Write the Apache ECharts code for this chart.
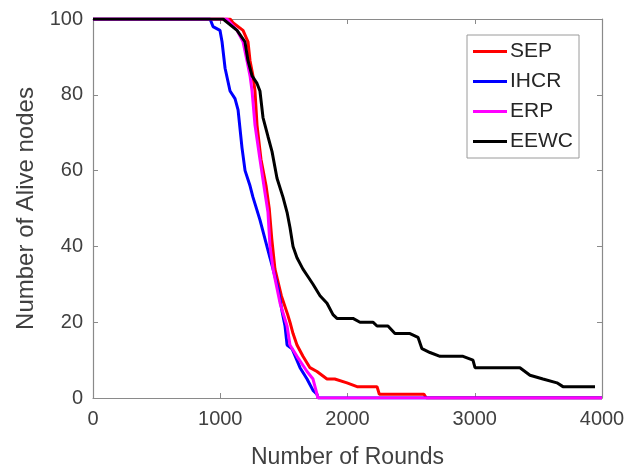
<!DOCTYPE html>
<html>
<head>
<meta charset="utf-8">
<script src="https://cdn.jsdelivr.net/npm/echarts@6/dist/echarts.min.js"></script>
<style>
html,body{margin:0;padding:0;background:#fff;}
#chart{width:641px;height:474px;}
</style>
</head>
<body>
<div id="chart"></div>
<script>
var seriesNames = ['SEP', 'IHCR', 'ERP', 'EEWC'];
var xTicks = [0, 1000, 2000, 3000, 4000];
var yTicks = [0, 20, 40, 60, 80, 100];

var sepRounds = [0,1077,1100,1179,1218,1234,1257,1273,1289,1320,1360,1385,1405,1430,1480,1530,1548,1572,1603,1650,1705,1760,1839,1900,1996,2075,2232,2250,2600,2620,4000];
var sepAlive  = [100,100,99,97,94,89,85,81,72,63,56,50,42,34,27,22,20,17,14,11,8,7,5,5,4,3,3,1,1,0,0];

var ihcrRounds = [0,920,943,998,1014,1038,1077,1116,1140,1171,1195,1234,1257,1312,1367,1391,1415,1454,1485,1509,1525,1564,1627,1682,1729,1760,1770,4000];
var ihcrAlive  = [100,100,98,97,94,87,81,79,76,66,60,56,53,47,40,37,34,29,23,19,14,13,8,5,2,1,0,0];

var erpRounds = [0,1053,1132,1179,1210,1234,1250,1273,1312,1352,1375,1391,1415,1470,1525,1548,1603,1682,1729,1768,4000];
var erpAlive  = [100,100,97,94,89,85,81,72,63,54,49,40,34,25,19,14,11,7,5,0,0];

var eewcRounds = [0,1000,1022,1132,1194,1218,1250,1289,1312,1336,1375,1407,1446,1493,1525,1548,1572,1603,1650,1690,1729,1784,1839,1886,1917,2043,2098,2200,2232,2318,2373,2491,2554,2585,2648,2727,2908,2986,3002,3355,3434,3536,3646,3693,3945];
var eewcAlive  = [100,100,100,97,94,89,85,83,81,74,69,65,58,53,49,45,40,37,34,32,30,27,25,22,21,21,20,20,19,19,17,17,16,13,12,11,11,10,8,8,6,5,4,3,3];

var colors = ['#ff0000', '#0000ff', '#ff00ff', '#000000'];

function zip(xs, ys) { return xs.map(function (x, i) { return [x, ys[i]]; }); }
var allData = [zip(sepRounds, sepAlive), zip(ihcrRounds, ihcrAlive), zip(erpRounds, erpAlive), zip(eewcRounds, eewcAlive)];

var axisGray = '#8a8a8a';
var labelColor = '#404040';
var font = 'Liberation Sans, Arial, sans-serif';

function baseX(pos, showLabel) {
  return {
    type: 'value', position: pos, min: xTicks[0], max: xTicks[xTicks.length - 1],
    interval: xTicks[1] - xTicks[0],
    axisLine: { show: true, onZero: false, lineStyle: { color: axisGray, width: 1.2 } },
    axisTick: { show: true, inside: true, length: 5, lineStyle: { color: axisGray } },
    axisLabel: { show: showLabel, color: labelColor, fontSize: 20, fontFamily: font, margin: 11,
                 formatter: function (v) { return String(v); } },
    splitLine: { show: false }
  };
}
function baseY(pos, showLabel) {
  return {
    type: 'value', position: pos, min: yTicks[0], max: yTicks[yTicks.length - 1],
    interval: yTicks[1] - yTicks[0],
    axisLine: { show: true, onZero: false, lineStyle: { color: axisGray, width: 1.2 } },
    axisTick: { show: true, inside: true, length: 5, lineStyle: { color: axisGray } },
    axisLabel: { show: showLabel, color: labelColor, fontSize: 20, fontFamily: font, margin: 10,
                 formatter: function (v) { return String(v); } },
    splitLine: { show: false }
  };
}

var xa = baseX('bottom', true);
xa.name = 'Number of Rounds';
xa.nameLocation = 'middle';
xa.nameGap = 48;
xa.nameTextStyle = { color: labelColor, fontSize: 23, fontFamily: font };
var xb = baseX('top', false);

var ya = baseY('left', true);
ya.name = 'Number of Alive nodes';
ya.nameLocation = 'middle';
ya.nameGap = 54;
ya.nameTextStyle = { color: labelColor, fontSize: 24, fontFamily: font };
var yb = baseY('right', false);

var chart = echarts.init(document.getElementById('chart'), null, { renderer: 'canvas' });
chart.setOption({
  animation: false,
  backgroundColor: '#ffffff',
  grid: { left: 93, right: 39, top: 19, bottom: 73, containLabel: false },
  xAxis: [xa, xb],
  yAxis: [ya, yb],
  legend: {
    orient: 'vertical', left: 467, top: 35,
    padding: [6, 6, 6, 6], itemGap: 9,
    itemWidth: 34, itemHeight: 14,
    borderColor: '#9a9a9a', borderWidth: 1, backgroundColor: '#fff',
    textStyle: { color: '#262626', fontSize: 21, fontFamily: font, padding: [0, 0, 0, -2] },
    icon: 'path://M0,6 L34,6 L34,9 L0,9 Z',
    data: seriesNames
  },
  series: seriesNames.map(function (n, i) {
    return {
      name: n, type: 'line', data: allData[i], xAxisIndex: 0, yAxisIndex: 0,
      symbol: 'none', showSymbol: false, clip: true,
      lineStyle: { color: colors[i], width: 3 }, itemStyle: { color: colors[i] }
    };
  })
});
</script>
</body>
</html>
